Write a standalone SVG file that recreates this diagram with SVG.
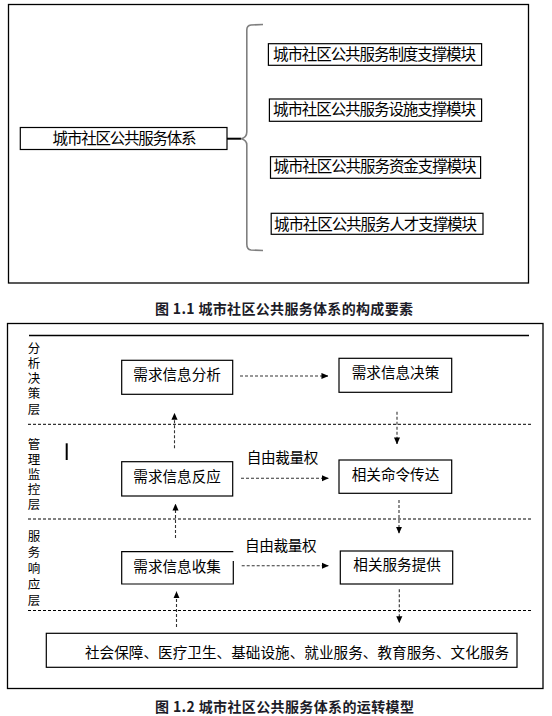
<svg xmlns="http://www.w3.org/2000/svg" width="552" height="716" viewBox="0 0 552 716">
<defs>
<style>
text{font-family:"Noto Sans CJK SC","Noto Sans",sans-serif;fill:#000;}
.t{font-size:15.5px;}
.n{font-size:14.6px;}
.cap{font-size:14px;font-weight:bold;fill:#1c1c28;}
.lay{font-size:12.5px;writing-mode:vertical-rl;}
.box{fill:#fff;stroke:#000;stroke-width:1.2;}
.frame{fill:none;stroke:#000;stroke-width:1.3;}
.dl{stroke:#000;stroke-width:1;stroke-dasharray:3,2;fill:none;}
.arr{stroke:#333;stroke-width:1.1;stroke-dasharray:3,2;fill:none;marker-end:url(#ah);}
</style>
<marker id="ah" viewBox="0 0 8 8" refX="7.5" refY="4" markerWidth="7" markerHeight="7" markerUnits="userSpaceOnUse" orient="auto">
<path d="M0,0.5 L8,4 L0,7.5 Z" fill="#000"/>
</marker>
</defs>
<rect width="552" height="716" fill="#fff"/>

<!-- Figure 1.1 -->
<rect class="frame" x="8.5" y="4.5" width="520" height="278.5"/>
<g id="system">
<rect class="box" x="20.3" y="127.5" width="206.7" height="22"/>
<text class="t" x="52.6" y="144" textLength="144" lengthAdjust="spacing">城市社区公共服务体系</text>
</g>
<g id="connectors1">
<line x1="227" y1="138.7" x2="241" y2="138.7" stroke="#000" stroke-width="2"/>
<path d="M263,24.5 L251,25 Q246.8,25.5 246.8,30 L246.8,132 Q246.8,137.5 241,138.7 Q246.8,140 246.8,145 L246.8,244 Q246.8,249.5 251,250 L263,250.5" fill="none" stroke="#7f7f7f" stroke-width="1.6"/>
</g>
<g id="mod1">
<rect class="box" x="268.4" y="43.7" width="213.2" height="21.6"/>
<text class="t" x="273" y="59.5" textLength="203" lengthAdjust="spacing">城市社区公共服务制度支撑模块</text>
</g>
<g id="mod2">
<rect class="box" x="269.4" y="99" width="212.2" height="22.3"/>
<text class="t" x="273" y="115.3" textLength="203" lengthAdjust="spacing">城市社区公共服务设施支撑模块</text>
</g>
<g id="mod3">
<rect class="box" x="270.5" y="156.7" width="210.1" height="21.6"/>
<text class="t" x="273.5" y="172.3" textLength="203" lengthAdjust="spacing">城市社区公共服务资金支撑模块</text>
</g>
<g id="mod4">
<rect class="box" x="271.2" y="213.3" width="211.8" height="21"/>
<text class="t" x="274" y="229.5" textLength="203" lengthAdjust="spacing">城市社区公共服务人才支撑模块</text>
</g>
<text class="cap" x="155" y="314" textLength="258" lengthAdjust="spacing">图 1.1 城市社区公共服务体系的构成要素</text>

<!-- Figure 1.2 -->
<rect class="frame" x="7.5" y="323.5" width="535.5" height="365"/>
<g id="layers">
<line x1="29" y1="335.5" x2="529" y2="335.5" stroke="#000" stroke-width="1.3"/>
<line class="dl" x1="28" y1="424.3" x2="531" y2="424.3"/>
<line class="dl" x1="28" y1="519" x2="531" y2="519"/>
<line class="dl" x1="28" y1="610.5" x2="531" y2="610.5"/>
<text class="lay" x="34" y="341.5" textLength="73.5" lengthAdjust="spacing">分析决策层</text>
<text class="lay" x="34" y="438" textLength="72" lengthAdjust="spacing">管理监控层</text>
<text class="lay" x="34" y="529.5" textLength="77" lengthAdjust="spacing">服务响应层</text>
<line x1="66.7" y1="443.3" x2="66.7" y2="460" stroke="#000" stroke-width="2"/>
</g>
<g id="n-analysis">
<rect class="box" x="121.7" y="360.3" width="111" height="34"/>
<text class="n" x="133.3" y="380">需求信息分析</text>
</g>
<g id="n-decision">
<rect class="box" x="339" y="358.3" width="112.7" height="34"/>
<text class="n" x="351.7" y="378">需求信息决策</text>
</g>
<g id="n-response">
<rect class="box" x="121.7" y="461.7" width="111" height="34.3"/>
<text class="n" x="133.3" y="481.7">需求信息反应</text>
</g>
<g id="n-command">
<rect class="box" x="339" y="460" width="112.7" height="33.3"/>
<text class="n" x="351.7" y="480">相关命令传达</text>
</g>
<g id="n-collect">
<path class="box" d="M233.3,561 L233.3,584 L121.7,584 L121.7,551.7 L233.3,551.7" fill="#fff"/>
<text class="n" x="133.3" y="571.7">需求信息收集</text>
</g>
<g id="n-provide">
<rect class="box" x="340.3" y="551" width="112.4" height="33"/>
<text class="n" x="353.3" y="570">相关服务提供</text>
</g>
<g id="n-services">
<rect class="box" x="46.3" y="633.3" width="470.7" height="34"/>
<text class="n" x="85" y="658" textLength="424" lengthAdjust="spacing">社会保障、医疗卫生、基础设施、就业服务、教育服务、文化服务</text>
</g>
<g id="connectors2">
<line class="arr" x1="240" y1="376" x2="328" y2="376"/>
<line class="arr" x1="241" y1="478.3" x2="328.3" y2="478.3"/>
<line class="arr" x1="241.7" y1="565.7" x2="328.3" y2="565.7"/>
<line class="arr" x1="174.5" y1="448.3" x2="174.5" y2="413.3"/>
<line class="arr" x1="175.5" y1="538" x2="175.5" y2="504"/>
<line class="arr" x1="176.5" y1="627" x2="176.5" y2="591.7"/>
<line class="arr" x1="397" y1="411.7" x2="397" y2="444"/>
<line class="arr" x1="399" y1="500" x2="399" y2="533.3"/>
<line class="arr" x1="399.3" y1="589.3" x2="399.3" y2="622.7"/>
<text class="n" x="246.7" y="463" textLength="71.6" lengthAdjust="spacing">自由裁量权</text>
<text class="n" x="245" y="551" textLength="71.6" lengthAdjust="spacing">自由裁量权</text>
</g>
<text class="cap" x="155" y="711.7" textLength="259" lengthAdjust="spacing">图 1.2 城市社区公共服务体系的运转模型</text>
</svg>
